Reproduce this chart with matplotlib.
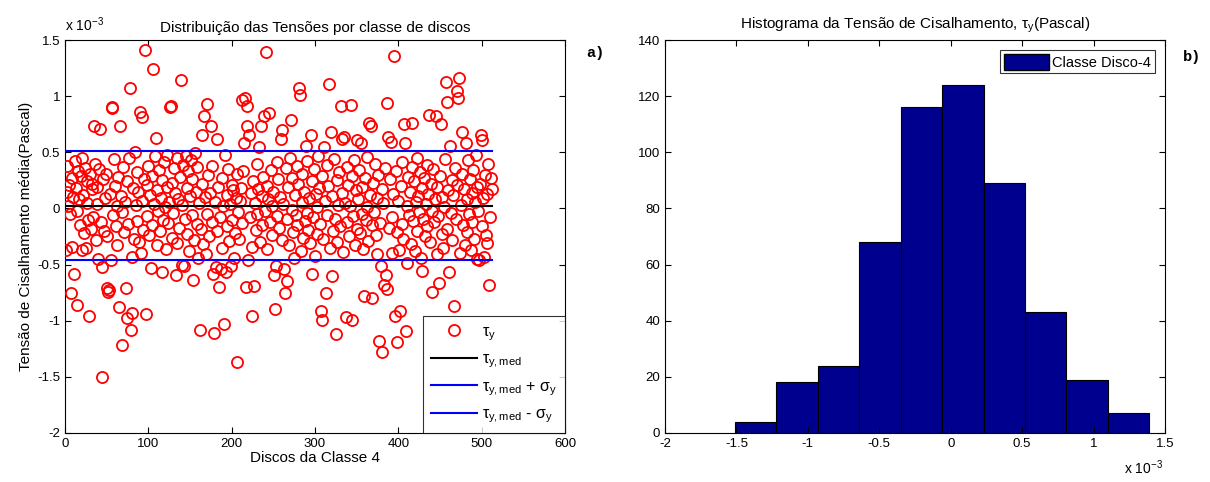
import matplotlib
matplotlib.use('Agg')
import matplotlib.pyplot as plt
from matplotlib.ticker import FormatStrFormatter, MultipleLocator
from matplotlib.lines import Line2D
from matplotlib.patches import Patch

plt.rcParams['font.family'] = ['Liberation Sans', 'DejaVu Sans']
plt.rcParams['mathtext.fontset'] = 'custom'
plt.rcParams['mathtext.rm'] = 'Liberation Sans'
plt.rcParams['mathtext.it'] = 'Liberation Sans'
plt.rcParams['axes.unicode_minus'] = False

# tensao por disco (x 10^-3 Pa), disco 1..512
tau_y = [
    -0.37, 0.15, 0.38, 0.02, 0.21, -0.05, -0.75, 0.27, -0.34, 0.10, -0.58, 0.42, 0.18, -0.02, -0.86, 0.33,
    0.08, -0.15, 0.29, 0.45, -0.37, 0.12, -0.22, 0.36, -0.35, 0.05, 0.24, -0.10, -0.96, 0.31, -0.18, 0.17,
    0.22, -0.08, 0.73, 0.40, -0.28, 0.04, 0.19, -0.45, 0.35, 0.71, -0.12, -0.52, -1.50, 0.26, -0.20, 0.09,
    0.31, -0.25, -0.71, -0.74, -0.73, 0.13, -0.46, 0.90, 0.89, -0.06, 0.44, 0.20, -0.16, 0.02, -0.33, 0.28,
    -0.88, 0.73, 0.11, -0.03, -1.22, 0.37, -0.21, 0.06, -0.71, 0.24, -0.98, -0.14, 0.45, 1.07, -1.08, -0.93,
    -0.43, 0.18, -0.27, 0.50, 0.03, -0.11, 0.32, 0.15, -0.30, 0.86, -0.40, 0.81, 0.07, -0.19, 0.26, 1.41,
    -0.94, 0.21, -0.07, 0.38, -0.24, 0.12, -0.53, 0.29, -0.15, 1.24, 0.04, 0.47, 0.63, -0.33, 0.16, -0.02,
    0.34, -0.20, 0.09, 0.25, -0.57, -0.10, 0.41, 0.01, -0.36, 0.19, 0.48, -0.13, 0.06, 0.90, 0.91, -0.26,
    0.23, -0.04, 0.36, 0.14, -0.59, -0.31, 0.45, 0.08, -0.17, 0.28, 1.14, -0.50, 0.03, 0.39, -0.51, -0.09,
    0.47, 0.18, -0.23, 0.33, -0.38, 0.11, 0.43, -0.06, 0.26, -0.64, -0.28, 0.49, 0.15, -0.14, 0.37, -0.44,
    0.05, -1.08, -0.18, 0.65, 0.22, -0.32, 0.82, 0.10, -0.41, 0.93, -0.05, 0.30, -0.25, 0.14, 0.73, -0.12,
    0.38, -0.58, -1.11, 0.06, -0.52, -0.20, 0.62, 0.19, -0.70, -0.08, -0.54, 0.27, -0.35, 0.02, -1.03, 0.48,
    -0.57, 0.12, -0.16, 0.35, -0.29, 0.04, -0.51, 0.21, -0.10, 0.16, -0.44, -0.22, 0.09, 0.31, -1.37, -0.03,
    -0.27, 0.07, 0.18, -0.13, 0.97, 0.33, 0.58, 0.98, -0.70, 0.91, 0.73, -0.46, 0.65, -0.08, 0.14, -0.34,
    -0.96, 0.24, -0.69, 0.05, -0.19, 0.40, -0.05, 0.17, 0.55, -0.30, 0.73, 0.11, -0.15, 0.28, 0.82, -0.02,
    1.39, 0.20, -0.36, 0.08, 0.85, -0.12, 0.34, -0.24, 0.02, 0.15, -0.59, -0.90, -0.51, 0.41, -0.07, 0.26,
    -0.17, 0.10, 0.62, -0.28, 0.70, 0.04, -0.54, -0.75, 0.36, -0.09, -0.65, 0.19, -0.33, 0.45, 0.79, -0.01,
    0.27, -0.21, -0.44, 0.12, -0.06, 0.38, -0.15, 0.22, 1.07, 1.01, -0.38, 0.06, 0.31, -0.26, 0.15, -0.11,
    0.56, -0.04, 0.42, -0.19, 0.09, -0.31, 0.65, 0.24, -0.58, -0.08, 0.35, -0.42, 0.13, 0.01, -0.23, 0.47,
    0.18, -0.14, -0.91, -0.99, 0.29, -0.27, 0.55, 0.07, -0.75, 0.39, -0.06, 0.20, 1.11, -0.35, 0.68, -0.60,
    0.11, -0.20, 0.44, -0.09, -1.12, 0.25, -0.30, 0.03, 0.32, -0.16, 0.91, 0.14, 0.62, -0.39, 0.64, 0.05,
    -0.97, 0.37, -0.12, 0.21, -0.25, 0.02, 0.92, 0.29, -0.99, -0.07, 0.43, -0.33, 0.16, -0.18, 0.61, 0.08,
    0.34, -0.22, 0.58, -0.05, 0.19, -0.36, -0.78, 0.27, -0.10, 0.46, 0.01, -0.29, 0.76, 0.12, 0.73, -0.15,
    -0.80, 0.23, -0.03, 0.40, -0.24, 0.09, -0.41, 0.30, -1.18, -0.13, -0.51, 0.17, -1.28, 0.05, -0.68, 0.36,
    -0.59, -0.72, 0.94, 0.64, -0.17, 0.26, 0.59, -0.08, -0.40, 0.13, 1.36, -0.96, 0.33, -0.21, -1.19, 0.07,
    -0.37, -0.91, 0.20, -0.14, 0.41, -0.27, 0.75, 0.58, -1.09, 0.02, -0.49, 0.28, -0.06, 0.15, -0.32, 0.37,
    0.76, -0.11, 0.24, -0.38, 0.06, 0.45, -0.20, 0.11, -0.03, 0.32, -0.44, 0.18, -0.56, -0.09, 0.27, -0.25,
    0.04, 0.39, -0.16, 0.13, 0.83, -0.30, 0.22, -0.02, -0.74, 0.35, -0.12, 0.08, 0.82, -0.41, 0.19, -0.07,
    -0.66, 0.29, 0.75, -0.23, 0.10, -0.35, 0.01, 0.44, 1.13, -0.18, 0.95, 0.16, -0.57, 0.56, -0.04, 0.25,
    -0.28, 0.12, -0.87, 0.36, -0.09, 0.21, 1.05, 0.98, 1.16, -0.40, 0.03, 0.31, 0.68, -0.15, 0.17, -0.33,
    0.58, 0.08, -0.21, 0.43, -0.05, 0.26, -0.37, 0.14, -0.12, 0.34, -0.27, 0.06, 0.48, -0.45, 0.19, -0.02,
    -0.46, 0.22, 0.65, -0.16, 0.61, 0.09, -0.43, 0.30, -0.24, 0.13, -0.31, 0.40, -0.68, -0.08, 0.27, 0.17,
]
discos = list(range(1, len(tau_y) + 1))

tau_med = 0.025
sigma_y = 0.488

# histograma: bordas e contagens
bin_edges = [-1.51, -1.22, -0.93, -0.64, -0.35, -0.06, 0.23, 0.52, 0.81, 1.10, 1.39]
bin_counts = [4, 18, 24, 68, 116, 124, 89, 43, 19, 7]

fig = plt.figure(figsize=(12.1, 4.82), dpi=100)
ax1 = fig.add_axes([0.0537, 0.1017, 0.4132, 0.8153])
ax2 = fig.add_axes([0.5496, 0.1017, 0.4132, 0.8153])

red = '#FF0000'
blue = '#0000FF'
navy = '#00008F'

# a) dispersao
ax1.plot(discos, tau_y, 'o', mfc='none', mec=red, ms=8, mew=1.3, zorder=3)
x_line = [discos[0], discos[-1]]
ax1.plot(x_line, [tau_med, tau_med], color='black', lw=1.5, zorder=4)
ax1.plot(x_line, [tau_med + sigma_y] * 2, color=blue, lw=1.5, zorder=4)
ax1.plot(x_line, [tau_med - sigma_y] * 2, color=blue, lw=1.5, zorder=4)

ax1.set_xlim(0, 600)
ax1.set_ylim(-2, 1.5)
ax1.xaxis.set_major_locator(MultipleLocator(100))
ax1.yaxis.set_major_locator(MultipleLocator(0.5))
ax1.yaxis.set_major_formatter(FormatStrFormatter('%g'))
ax1.set_title('Distribuição das Tensões por classe de discos', fontsize=11, pad=6)
ax1.set_xlabel('Discos da Classe 4', fontsize=11, labelpad=1)
ax1.set_ylabel('Tensão de Cisalhamento média(Pascal)', fontsize=11, labelpad=3)
ax1.text(0.0, 1.015, r'x 10$^{\mathrm{-3}}$', transform=ax1.transAxes, fontsize=10,
         ha='left', va='bottom')

handles = [
    Line2D([], [], ls='none', marker='o', mfc='none', mec=red, ms=8, mew=1.3),
    Line2D([], [], color='black', lw=1.5),
    Line2D([], [], color=blue, lw=1.5),
    Line2D([], [], color=blue, lw=1.5),
]
labels = [r'$\tau_y$', r'$\tau_{y,med}$', r'$\tau_{y,med}$ + $\sigma_y$', r'$\tau_{y,med}$ - $\sigma_y$']
leg = ax1.legend(handles, labels, loc='lower right', fontsize=11.5, frameon=True, fancybox=False,
                 edgecolor='black', borderaxespad=0, handlelength=2.9, handletextpad=0.3,
                 labelspacing=0.55, borderpad=0.5)
leg.get_frame().set_linewidth(0.8)

# b) histograma
widths = [bin_edges[i + 1] - bin_edges[i] for i in range(len(bin_counts))]
ax2.bar(bin_edges[:-1], bin_counts, width=widths, align='edge', color=navy,
        edgecolor='black', linewidth=0.8, label='Classe Disco-4')
ax2.set_xlim(-2, 1.5)
ax2.set_ylim(0, 140)
ax2.xaxis.set_major_locator(MultipleLocator(0.5))
ax2.yaxis.set_major_locator(MultipleLocator(20))
ax2.xaxis.set_major_formatter(FormatStrFormatter('%g'))
ax2.set_title(r'Histograma da Tensão de Cisalhamento, $\tau_y$(Pascal)', fontsize=11, pad=8)
fig.text(1163 / 1210, 1 - 468 / 482, r'x 10$^{\mathrm{-3}}$', fontsize=10,
         ha='right', va='center')
leg2 = ax2.legend(handles=[Patch(facecolor=navy, edgecolor='black', label='Classe Disco-4')],
                  loc='upper right', fontsize=10.5, frameon=True, fancybox=False, edgecolor='black',
                  borderaxespad=0.7, handlelength=3.1, handleheight=1.3, handletextpad=0.2,
                  borderpad=0.25)
leg2.get_frame().set_linewidth(0.8)

for ax in (ax1, ax2):
    ax.tick_params(direction='in', top=True, right=True, labelsize=9.5, length=4, width=0.8)
    for s in ax.spines.values():
        s.set_linewidth(0.8)

fig.text(595 / 1210, 1 - 53 / 482, 'a)', family='Liberation Mono', weight='bold', fontsize=11,
         ha='center', va='center')
fig.text(1192 / 1210, 1 - 57 / 482, 'b)', family='Liberation Mono', weight='bold', fontsize=11,
         ha='center', va='center')

fig.savefig('out.png', dpi=100)
